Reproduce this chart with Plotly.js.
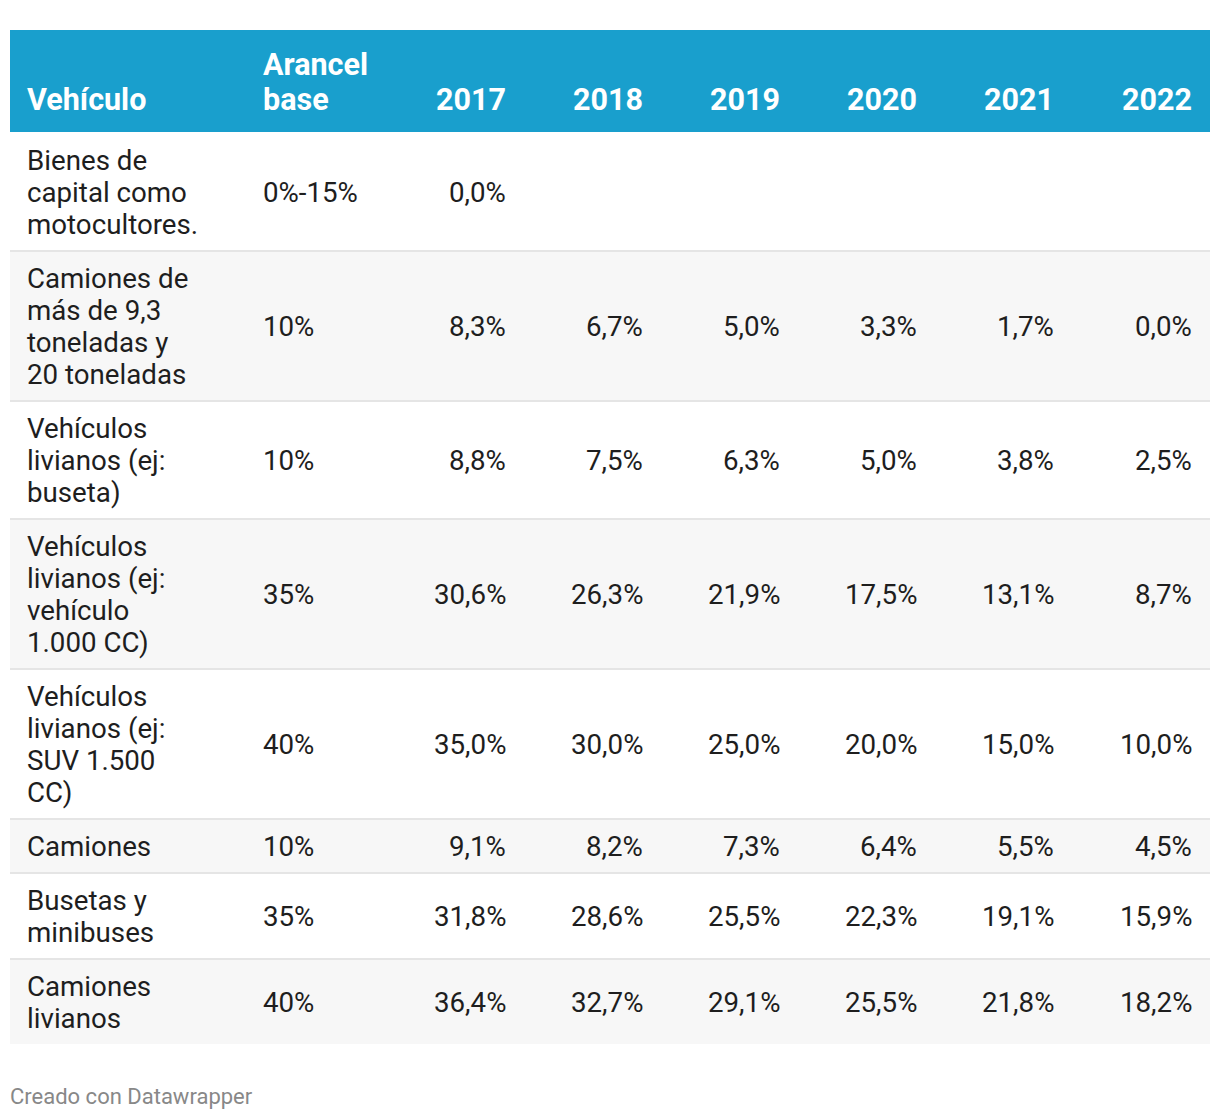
<!DOCTYPE html>
<html>
<head>
<meta charset="utf-8">
<script src="https://cdn.plot.ly/plotly-3.0.1.min.js"></script>
<style>
  html, body { margin: 0; padding: 0; background: #ffffff; }
  #chart { width: 1220px; height: 1120px; }
</style>
</head>
<body>
<div id="chart"></div>
<script>
// ---- Data ----
var headerVehiculo = "Vehículo";
var headerArancel = "Arancel<br>base";
var years = ["2017", "2018", "2019", "2020", "2021", "2022"];

var vehiculos = [
  "Bienes de<br>capital como<br>motocultores.",
  "Camiones de<br>más de 9,3<br>toneladas y<br>20 toneladas",
  "Vehículos<br>livianos (ej:<br>buseta)",
  "Vehículos<br>livianos (ej:<br>vehículo<br>1.000 CC)",
  "Vehículos<br>livianos (ej:<br>SUV 1.500<br>CC)",
  "Camiones",
  "Busetas y<br>minibuses",
  "Camiones<br>livianos"
];
var arancelBase = ["0%-15%", "10%", "10%", "35%", "40%", "10%", "35%", "40%"];

var v2017 = [0.0, 8.3, 8.8, 30.6, 35.0, 9.1, 31.8, 36.4];
var v2018 = [null, 6.7, 7.5, 26.3, 30.0, 8.2, 28.6, 32.7];
var v2019 = [null, 5.0, 6.3, 21.9, 25.0, 7.3, 25.5, 29.1];
var v2020 = [null, 3.3, 5.0, 17.5, 20.0, 6.4, 22.3, 25.5];
var v2021 = [null, 1.7, 3.8, 13.1, 15.0, 5.5, 19.1, 21.8];
var v2022 = [null, 0.0, 2.5, 8.7, 10.0, 4.5, 15.9, 18.2];

var footer = "Creado con Datawrapper";

// ---- Layout constants ----
var W = 1220, H = 1120;
var tableLeft = 10, tableRight = 1210;
var headerTop = 30, headerBottom = 132;
var lineH = 32, rowPad = 22;
var colVehX = 27, colArancelX = 263;
var yearRightX = [506, 643, 780, 917, 1054, 1192];
var headerBlue = "#199fcd";
var stripe = "#f7f7f7";
var sepColor = "#e5e5e5";
var FAM = "Roboto, 'Noto Sans', sans-serif";
var bodyFont = { family: FAM, size: 27.7, color: "#1e1e1e" };
var headFont = { family: FAM, size: 30.5, color: "#ffffff", weight: 700 };
var footFont = { family: FAM, size: 22, color: "#888888" };
var DESC = 0.244; // descent fraction: baseline sits this far above the box bottom

var series = [v2017, v2018, v2019, v2020, v2021, v2022];
function fmt(v) {
  if (v === null || v === undefined) return "";
  return v.toFixed(1).replace(".", ",") + "%";
}

var shapes = [];
var annotations = [];

// header background
shapes.push({ type: "rect", xref: "x", yref: "y", x0: tableLeft, x1: tableRight, y0: headerTop, y1: headerBottom,
  fillcolor: headerBlue, line: { width: 0 }, layer: "below" });

// one annotation per text line, placed by its baseline
function lineAnn(text, x, baseline, xanchor, font) {
  annotations.push({ text: text, x: x, y: baseline + DESC * font.size, xref: "x", yref: "y",
    xanchor: xanchor, yanchor: "bottom", showarrow: false, font: font, align: xanchor,
    borderpad: 0, borderwidth: 0 });
}
// multi-line cell: lines spaced by `spacing`, last line at `lastBaseline`
function cellBottom(text, x, lastBaseline, xanchor, font, spacing) {
  var parts = text.split("<br>");
  var n = parts.length;
  parts.forEach(function (p, k) {
    lineAnn(p, x, lastBaseline - (n - 1 - k) * spacing, xanchor, font);
  });
}
// multi-line cell vertically centred on `midBaseline`
function cellMiddle(text, x, midBaseline, xanchor, font, spacing) {
  var parts = text.split("<br>");
  var n = parts.length;
  parts.forEach(function (p, k) {
    lineAnn(p, x, midBaseline + (k - (n - 1) / 2) * spacing, xanchor, font);
  });
}

// header text (bottom aligned)
var headBaseline = 110;
var headSpacing = 35;
cellBottom(headerVehiculo, colVehX, headBaseline, "left", headFont, headSpacing);
cellBottom(headerArancel, colArancelX, headBaseline, "left", headFont, headSpacing);
years.forEach(function (yr, j) {
  cellBottom(yr, yearRightX[j], headBaseline, "right", headFont, headSpacing);
});

// body rows
var y = headerBottom;
vehiculos.forEach(function (veh, i) {
  var n = veh.split("<br>").length;
  var h = lineH * n + rowPad;
  var y0 = y, y1 = y + h;
  shapes.push({ type: "rect", xref: "x", yref: "y", x0: tableLeft, x1: tableRight, y0: y0, y1: y1,
    fillcolor: (i % 2 === 1) ? stripe : "#ffffff", line: { width: 0 }, layer: "below" });
  if (i > 0) {
    shapes.push({ type: "rect", xref: "x", yref: "y", x0: tableLeft, x1: tableRight, y0: y0, y1: y0 + 2,
      fillcolor: sepColor, line: { width: 0 }, layer: "below" });
  }
  var midBase = (y0 + y1) / 2 + 11;
  cellMiddle(veh, colVehX, midBase, "left", bodyFont, lineH);
  cellMiddle(arancelBase[i], colArancelX, midBase, "left", bodyFont, lineH);
  series.forEach(function (s, j) {
    var t = fmt(s[i]);
    if (t) cellMiddle(t, yearRightX[j], midBase, "right", bodyFont, lineH);
  });
  y = y1;
});

// footer
lineAnn(footer, 10, 1104, "left", footFont);

var layout = {
  width: W, height: H,
  margin: { l: 0, r: 0, t: 0, b: 0, pad: 0 },
  paper_bgcolor: "#ffffff", plot_bgcolor: "#ffffff",
  xaxis: { range: [0, W], visible: false, fixedrange: true },
  yaxis: { range: [H, 0], visible: false, fixedrange: true },
  shapes: shapes,
  annotations: annotations,
  showlegend: false
};

Plotly.newPlot("chart", [], layout, { displayModeBar: false, staticPlot: true });
</script>
</body>
</html>
